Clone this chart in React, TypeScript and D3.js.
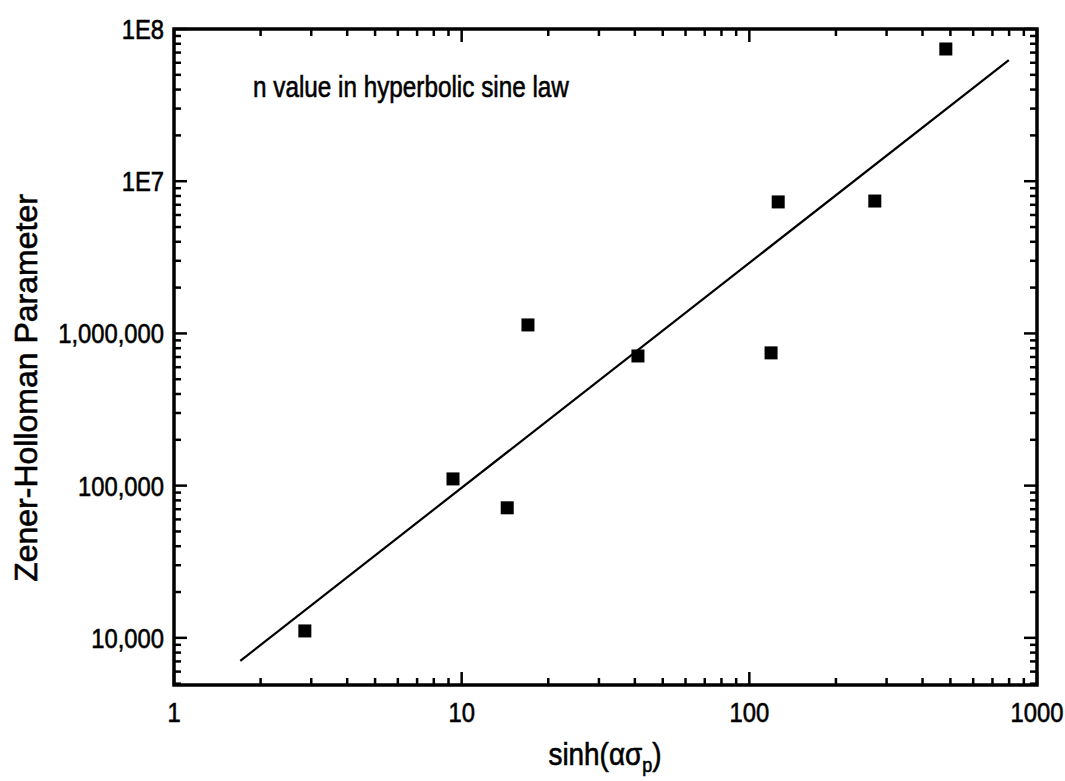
import * as d3 from "d3"
import React from "react"

// sinh(alpha * sigma_p) vs Zener-Hollomon parameter
const sinhValues = [2.85, 9.33, 14.4, 17.0, 41.0, 119, 126, 273, 482]
const zValues = [11100, 110700, 71500, 1137000, 711000, 745000, 7310000, 7410000, 73900000]

// fitted line end points
const fitX = [1.7, 798]
const fitY = [7065, 62500000]

const xTickValues = [1, 10, 100, 1000]
const xTickLabels = ["1", "10", "100", "1000"]
const yTickValues = [1e4, 1e5, 1e6, 1e7, 1e8]
const yTickLabels = ["10,000", "100,000", "1,000,000", "1E7", "1E8"]

const width = 1065
const height = 781
const margin = { left: 174, right: 28, top: 29, bottom: 96 }
const font = "'Liberation Sans', Arial, Helvetica, sans-serif"

const App = () => {
  const x = d3
    .scaleLog()
    .domain([1, 1000])
    .range([margin.left, width - margin.right])
  const y = d3
    .scaleLog()
    .domain([4900, 1e8])
    .range([height - margin.bottom, margin.top])

  const [x0, x1] = x.range()
  const [y0, y1] = y.range()

  const xMinor = x.ticks().filter((t) => !xTickValues.includes(t))
  const yMinor = y.ticks().filter((t) => !yTickValues.includes(t))

  const line = d3
    .line<number>()
    .x((d) => x(fitX[d]))
    .y((d) => y(fitY[d]))

  const major = 13
  const minor = 7

  return (
    <div style={{ position: "absolute", left: 0, top: 0 }}>
      <svg width={width} height={height} viewBox={`0 0 ${width} ${height}`} style={{ display: "block", background: "#fff" }}>
        {/* ticks, all pointing inward, mirrored on top and right */}
        <g stroke="#000" strokeWidth={2.5}>
          {xTickValues.map((t) => (
            <g key={"xM" + t}>
              <line x1={x(t)} x2={x(t)} y1={y0} y2={y0 - major} />
              <line x1={x(t)} x2={x(t)} y1={y1} y2={y1 + major} />
            </g>
          ))}
          {xMinor.map((t) => (
            <g key={"xm" + t}>
              <line x1={x(t)} x2={x(t)} y1={y0} y2={y0 - minor} />
              <line x1={x(t)} x2={x(t)} y1={y1} y2={y1 + minor} />
            </g>
          ))}
          {yTickValues.map((t) => (
            <g key={"yM" + t}>
              <line x1={x0} x2={x0 + major} y1={y(t)} y2={y(t)} />
              <line x1={x1} x2={x1 - major} y1={y(t)} y2={y(t)} />
            </g>
          ))}
          {yMinor.map((t) => (
            <g key={"ym" + t}>
              <line x1={x0} x2={x0 + minor} y1={y(t)} y2={y(t)} />
              <line x1={x1} x2={x1 - minor} y1={y(t)} y2={y(t)} />
            </g>
          ))}
        </g>

        <rect x={x0} y={y1} width={x1 - x0} height={y0 - y1} fill="none" stroke="#000" strokeWidth={3.5} />

        {/* tick labels */}
        <g fontFamily={font} fontSize={28} fill="#000" stroke="#000" strokeWidth={0.6}>
          {xTickValues.map((t, i) => (
            <text key={"xl" + t} transform={`translate(${x(t)},${y0 + 37}) scale(0.85,1)`} textAnchor="middle">
              {xTickLabels[i]}
            </text>
          ))}
          {yTickValues.map((t, i) => (
            <text key={"yl" + t} transform={`translate(${x0 - 10},${y(t) + 10}) scale(0.85,1)`} textAnchor="end">
              {yTickLabels[i]}
            </text>
          ))}
        </g>

        {/* fit line */}
        <path d={line([0, 1]) || ""} fill="none" stroke="#000" strokeWidth={2.2} />

        {/* data points */}
        {sinhValues.map((v, i) => (
          <rect key={i} x={x(v) - 6.5} y={y(zValues[i]) - 6.5} width={13} height={13} fill="#000" />
        ))}

        {/* axis titles and note */}
        <g fontFamily={font} fill="#000" stroke="#000" strokeWidth={0.6}>
          <text transform={`translate(${37},${388}) rotate(-90)`} textAnchor="middle" fontSize={32}>
            Zener-Holloman Parameter
          </text>
          <text transform={`translate(${605},${765}) scale(0.9,1)`} textAnchor="middle" fontSize={31}>
            sinh(ασ<tspan fontSize={20} dy={7}>p</tspan>
            <tspan dy={-7}>)</tspan>
          </text>
          <text transform={`translate(253,97) scale(0.81,1)`} fontSize={30}>
            n value in hyperbolic sine law
          </text>
        </g>
      </svg>
    </div>
  )
}

export default App
